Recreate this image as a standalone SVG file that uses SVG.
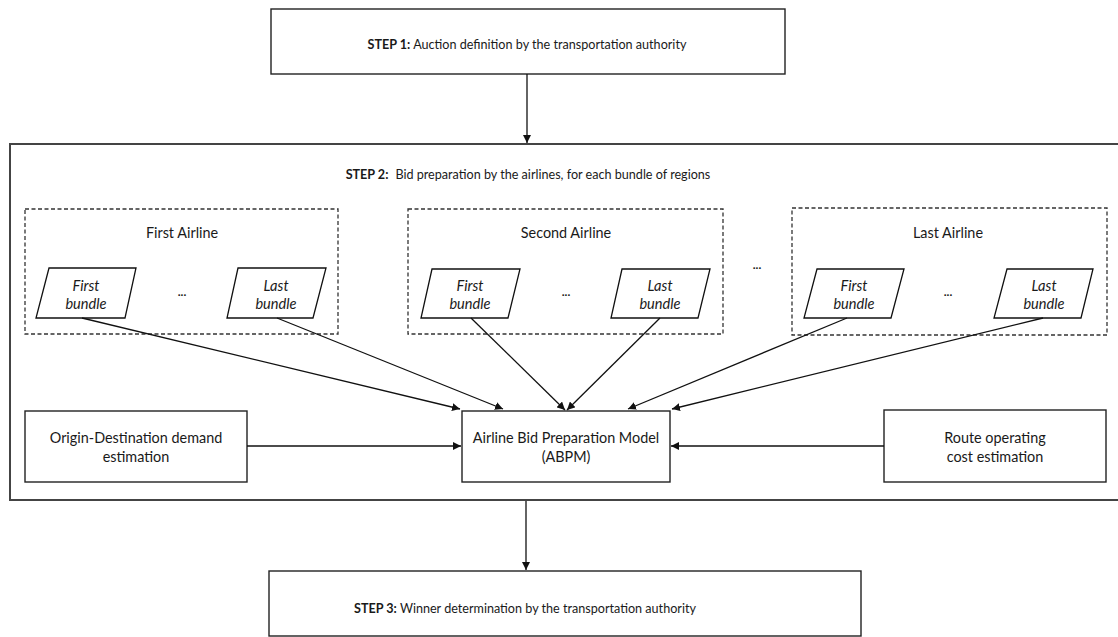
<svg xmlns="http://www.w3.org/2000/svg" width="1118" height="637" viewBox="0 0 1118 637">
<style>
text{font-family:Lato,"Open Sans","Liberation Sans",sans-serif;font-size:14.4px;fill:#1a1a1a}
.s{font-size:12.6px}
.b{font-weight:bold}
.i{font-style:italic;font-size:14.6px}
.d{font-weight:bold;font-size:12px}
.box{fill:#fff;stroke:#222;stroke-width:1.4}
.big{fill:none;stroke:#444;stroke-width:2}
.dash{fill:none;stroke:#333;stroke-width:1.3;stroke-dasharray:4 2.5}
.par{fill:#fff;stroke:#111;stroke-width:1.3}
.c{fill:none;stroke:#111;stroke-width:1.3;marker-end:url(#ah)}
</style>
<defs>
<marker id="ah" viewBox="0 0 10 10" refX="10" refY="5" markerWidth="8" markerHeight="8" markerUnits="userSpaceOnUse" orient="auto">
<path d="M0,0 L10,5 L0,10 z" fill="#111"/>
</marker>
</defs>
<rect width="1118" height="637" fill="#fff"/>

<g id="step2">
<rect class="big" x="10" y="144" width="1120" height="356"/>
<text class="s" x="528" y="178.5" text-anchor="middle"><tspan class="b">STEP 2:</tspan><tspan dx="7">Bid preparation by the airlines, for each bundle of regions</tspan></text>
</g>

<g id="step1">
<rect class="box" x="271" y="9" width="514" height="65"/>
<text class="s" x="527" y="48.5" text-anchor="middle"><tspan class="b">STEP 1:</tspan> Auction definition by the transportation authority</text>
</g>

<g id="step3">
<rect class="box" x="269" y="571" width="592" height="65"/>
<text class="s" x="525" y="612.5" text-anchor="middle"><tspan class="b">STEP 3:</tspan> Winner determination by the transportation authority</text>
</g>

<g id="airline1">
<rect class="dash" x="25" y="209" width="313" height="125"/>
<text x="182" y="238" text-anchor="middle">First Airline</text>
<text x="182" y="296" text-anchor="middle" class="d">...</text>
</g>
<g id="a1b1">
<polygon class="par" points="49,268 136,268 125,318 36,318"/>
<text class="i" x="86" y="291" text-anchor="middle">First</text>
<text class="i" x="86" y="308.5" text-anchor="middle">bundle</text>
</g>
<g id="a1b2">
<polygon class="par" points="238,268 326,268 313,318 227,318"/>
<text class="i" x="276" y="291" text-anchor="middle">Last</text>
<text class="i" x="276" y="308.5" text-anchor="middle">bundle</text>
</g>

<g id="airline2">
<rect class="dash" x="408" y="209" width="315" height="125"/>
<text x="566" y="238" text-anchor="middle">Second Airline</text>
<text x="566" y="296" text-anchor="middle" class="d">...</text>
</g>
<g id="a2b1">
<polygon class="par" points="432,269 520,269 508,318 421,318"/>
<text class="i" x="470" y="291" text-anchor="middle">First</text>
<text class="i" x="470" y="308.5" text-anchor="middle">bundle</text>
</g>
<g id="a2b2">
<polygon class="par" points="622,269 710,269 698,318 611,318"/>
<text class="i" x="660" y="291" text-anchor="middle">Last</text>
<text class="i" x="660" y="308.5" text-anchor="middle">bundle</text>
</g>

<g id="dots">
<text x="757" y="269" text-anchor="middle" class="d">...</text>
</g>

<g id="airline3">
<rect class="dash" x="792" y="208" width="315" height="127"/>
<text x="948" y="238" text-anchor="middle">Last Airline</text>
<text x="948" y="296" text-anchor="middle" class="d">...</text>
</g>
<g id="a3b1">
<polygon class="par" points="817,269 904,269 891,318 804,318"/>
<text class="i" x="854" y="291" text-anchor="middle">First</text>
<text class="i" x="854" y="308.5" text-anchor="middle">bundle</text>
</g>
<g id="a3b2">
<polygon class="par" points="1007,269 1093,269 1081,318 994,318"/>
<text class="i" x="1044" y="291" text-anchor="middle">Last</text>
<text class="i" x="1044" y="308.5" text-anchor="middle">bundle</text>
</g>

<g id="od">
<rect class="box" x="25" y="411" width="222" height="71"/>
<text x="136" y="443" text-anchor="middle">Origin-Destination demand</text>
<text x="136" y="462" text-anchor="middle">estimation</text>
</g>

<g id="abpm">
<rect class="box" x="462" y="411" width="208" height="71"/>
<text x="566" y="443" text-anchor="middle">Airline Bid Preparation Model</text>
<text x="566" y="462" text-anchor="middle">(ABPM)</text>
</g>

<g id="route">
<rect class="box" x="884" y="410" width="222" height="72"/>
<text x="995" y="443" text-anchor="middle">Route operating</text>
<text x="995" y="462" text-anchor="middle">cost estimation</text>
</g>

<g id="connectors">
<line class="c" x1="527" y1="74" x2="527" y2="143"/>
<line class="c" x1="526" y1="501" x2="526" y2="570"/>
<line class="c" x1="82" y1="318" x2="460" y2="409"/>
<line class="c" x1="277" y1="318" x2="503" y2="409"/>
<line class="c" x1="471" y1="318" x2="565" y2="410"/>
<line class="c" x1="660" y1="318" x2="567" y2="410"/>
<line class="c" x1="847" y1="318" x2="628" y2="409"/>
<line class="c" x1="1043" y1="318" x2="672" y2="409"/>
<line class="c" x1="247" y1="446" x2="461" y2="446"/>
<line class="c" x1="884" y1="446" x2="671" y2="446"/>
</g>
</svg>
